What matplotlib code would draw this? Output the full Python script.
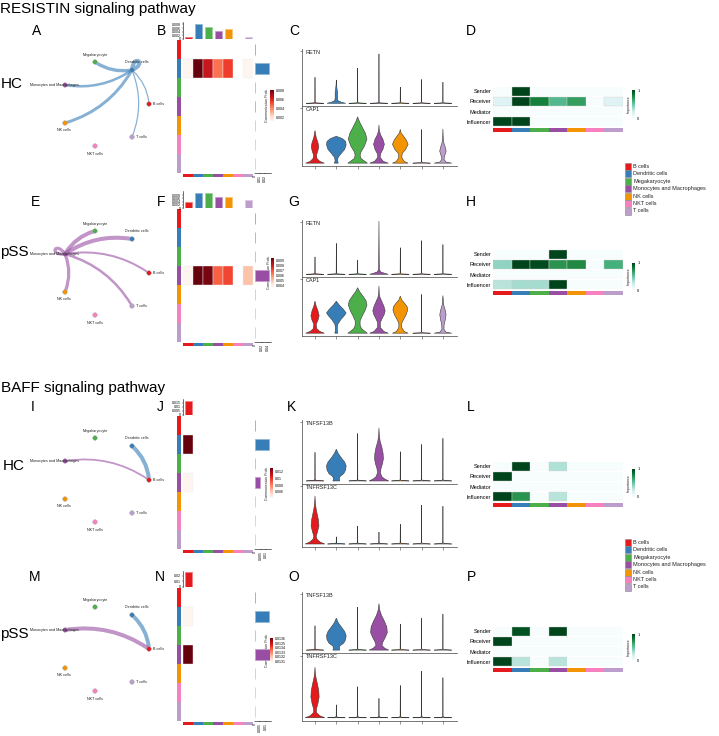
import numpy as np
import matplotlib
matplotlib.use('Agg')
import matplotlib.pyplot as plt
from matplotlib.patches import FancyArrowPatch, Rectangle, PathPatch
from matplotlib.path import Path
from matplotlib.colors import Normalize, to_rgb
from matplotlib.cm import ScalarMappable

plt.rcParams['font.family'] = ['Liberation Sans', 'DejaVu Sans']

# ------------------------------------------------------------------ data
cell_types = ['B cells', 'Dendritic cells', 'Megakaryocyte', 'Monocytes and Macrophages',
              'NK cells', 'NKT cells', 'T cells']
cell_colors = ['#E41A1C', '#377EB8', '#4DAF4A', '#984EA3', '#F29403', '#F781BF', '#BC9DCC']
roles = ['Sender', 'Receiver', 'Mediator', 'Influencer']

# communication probabilities (sender -> receivers, column order = cell_types)
resistin_hc_sender = 'Dendritic cells'
resistin_hc_prob = [0.0013, 0.0082, 0.0066, 0.0046, 0.0056, 0.0, 0.0013]
resistin_pss_sender = 'Monocytes and Macrophages'
resistin_pss_prob = [0.0038, 0.0095, 0.0093, 0.0068, 0.0072, 0.0, 0.0051]
# BAFF: senders (order = cell_types) -> B cells
baff_receiver = 'B cells'
baff_hc_prob = [0.0, 0.0130, 0.0, 0.0042, 0.0, 0.0, 0.0]
baff_pss_prob = [0.0, 0.01308, 0.0, 0.01362, 0.0, 0.0, 0.0]

# signaling role importance (rows = roles)
resistin_hc_roles = [[0, 1, 0, 0, 0, 0, 0],
                     [0.16, 1, 0.8, 0.56, 0.68, 0, 0.16],
                     [0, 0, 0, 0, 0, 0, 0],
                     [1, 1, 0, 0, 0, 0, 0]]
resistin_pss_roles = [[0, 0, 0, 1, 0, 0, 0],
                      [0.4, 1, 0.98, 0.72, 0.76, 0, 0.61],
                      [0, 0, 0, 0, 0, 0, 0],
                      [0.3, 0.35, 0.35, 1, 0, 0, 0]]
baff_hc_roles = [[0, 1, 0, 0.32, 0, 0, 0],
                 [1, 0, 0, 0, 0, 0, 0],
                 [0, 0, 0, 0, 0, 0, 0],
                 [1, 0.72, 0, 0.3, 0, 0, 0]]
baff_pss_roles = [[0, 0.96, 0, 1, 0, 0, 0],
                  [1, 0, 0, 0, 0, 0, 0],
                  [0, 0, 0, 0, 0, 0, 0],
                  [1, 0.3, 0, 0.3, 0, 0, 0]]

# violin plots: max expression per cell type (relative) and density profiles
# profile = (expression levels, relative density) for clusters with visible violins
resistin_genes = ['RETN', 'CAP1']
baff_genes = ['TNFSF13B', 'TNFRSF13C']

resistin_hc_max = {'RETN': [0.48, 0.43, 0.65, 0.91, 0.30, 0.44, 0.39],
                   'CAP1': [0.57, 0.47, 0.81, 0.67, 0.59, 0.59, 0.60]}
resistin_hc_prof = {
    'RETN': {1: ([0, 0.02, 0.05, 0.10, 0.20, 0.28, 0.35, 0.43], [0.95, 0.5, 0.15, 0.12, 0.12, 0.06, 0.02, 0])},
    'CAP1': {0: ([0, 0.03, 0.08, 0.14, 0.22, 0.29, 0.36, 0.45, 0.57], [0.95, 0.5, 0.2, 0.15, 0.3, 0.38, 0.3, 0.12, 0]),
             1: ([0, 0.04, 0.1, 0.16, 0.24, 0.32, 0.38, 0.43, 0.47], [0.2, 0.12, 0.18, 0.45, 0.85, 1.0, 0.95, 0.6, 0]),
             2: ([0, 0.03, 0.08, 0.14, 0.2, 0.3, 0.42, 0.52, 0.62, 0.72, 0.81], [1.0, 0.75, 0.35, 0.25, 0.35, 0.7, 0.95, 0.8, 0.5, 0.2, 0]),
             3: ([0, 0.03, 0.1, 0.16, 0.24, 0.33, 0.42, 0.5, 0.58, 0.67], [0.95, 0.45, 0.12, 0.15, 0.4, 0.55, 0.4, 0.15, 0.03, 0]),
             4: ([0, 0.03, 0.1, 0.17, 0.24, 0.33, 0.41, 0.48, 0.53, 0.59], [0.8, 0.4, 0.15, 0.2, 0.55, 0.8, 0.6, 0.3, 0.08, 0]),
             6: ([0, 0.02, 0.07, 0.14, 0.21, 0.27, 0.35, 0.45, 0.6], [0.9, 0.3, 0.1, 0.2, 0.33, 0.25, 0.1, 0.03, 0])}}

resistin_pss_max = {'RETN': [0.32, 0.57, 0.26, 0.98, 0.49, 0.62, 0.55],
                    'CAP1': [0.57, 0.57, 0.81, 0.84, 0.66, 0.69, 0.67]}
resistin_pss_prof = {
    'RETN': {3: ([0, 0.02, 0.04, 0.08, 0.2, 0.98], [0.95, 0.55, 0.2, 0.05, 0.03, 0])},
    'CAP1': {0: ([0, 0.03, 0.08, 0.16, 0.23, 0.31, 0.4, 0.48, 0.57], [0.95, 0.5, 0.18, 0.12, 0.3, 0.42, 0.3, 0.12, 0]),
             1: ([0, 0.05, 0.1, 0.16, 0.24, 0.31, 0.36, 0.43, 0.5, 0.57], [0.15, 0.1, 0.1, 0.15, 0.45, 0.8, 1.0, 0.7, 0.3, 0]),
             2: ([0, 0.03, 0.08, 0.14, 0.22, 0.3, 0.4, 0.5, 0.58, 0.67, 0.74, 0.81], [1.0, 0.75, 0.4, 0.25, 0.25, 0.45, 0.75, 0.95, 0.85, 0.5, 0.2, 0]),
             3: ([0, 0.03, 0.1, 0.19, 0.27, 0.34, 0.4, 0.48, 0.56, 0.64, 0.7, 0.84], [0.95, 0.5, 0.15, 0.13, 0.35, 0.55, 0.63, 0.5, 0.3, 0.1, 0.03, 0]),
             4: ([0, 0.03, 0.1, 0.18, 0.25, 0.33, 0.41, 0.47, 0.53, 0.59, 0.66], [0.8, 0.4, 0.15, 0.15, 0.35, 0.6, 0.75, 0.7, 0.45, 0.15, 0]),
             6: ([0, 0.02, 0.07, 0.15, 0.25, 0.33, 0.4, 0.5, 0.67], [0.9, 0.3, 0.1, 0.12, 0.25, 0.32, 0.25, 0.08, 0])}}

baff_hc_max = {'TNFSF13B': [0.47, 0.52, 0.78, 0.87, 0.48, 0.60, 0.70],
               'TNFRSF13C': [0.80, 0.12, 0.30, 0.20, 0.33, 0.65, 0.63]}
baff_hc_prof = {
    'TNFSF13B': {1: ([0, 0.03, 0.07, 0.12, 0.18, 0.25, 0.31, 0.38, 0.45, 0.52], [0.35, 0.3, 0.35, 0.75, 0.95, 1.0, 0.85, 0.5, 0.2, 0]),
                 3: ([0, 0.03, 0.07, 0.13, 0.2, 0.28, 0.36, 0.45, 0.55, 0.65, 0.75, 0.87], [1.0, 0.6, 0.3, 0.15, 0.2, 0.35, 0.45, 0.42, 0.3, 0.12, 0.03, 0])},
    'TNFRSF13C': {0: ([0, 0.03, 0.08, 0.13, 0.2, 0.3, 0.4, 0.5, 0.6, 0.7, 0.8], [1.0, 0.55, 0.2, 0.12, 0.25, 0.4, 0.35, 0.22, 0.1, 0.03, 0])}}

baff_pss_max = {'TNFSF13B': [0.42, 0.55, 0.74, 0.80, 0.45, 0.55, 0.62],
                'TNFRSF13C': [0.78, 0.20, 0.48, 0.30, 0.50, 0.72, 0.62]}
baff_pss_prof = {
    'TNFSF13B': {1: ([0, 0.03, 0.07, 0.12, 0.18, 0.25, 0.32, 0.4, 0.47, 0.55], [0.35, 0.3, 0.35, 0.75, 0.95, 1.0, 0.85, 0.5, 0.2, 0]),
                 3: ([0, 0.03, 0.08, 0.14, 0.22, 0.3, 0.4, 0.5, 0.6, 0.7, 0.8], [1.0, 0.6, 0.3, 0.4, 0.65, 0.85, 0.8, 0.55, 0.25, 0.06, 0])},
    'TNFRSF13C': {0: ([0, 0.03, 0.08, 0.14, 0.22, 0.32, 0.42, 0.52, 0.62, 0.7, 0.78], [1.0, 0.5, 0.15, 0.15, 0.3, 0.42, 0.38, 0.25, 0.1, 0.03, 0])}}

# ------------------------------------------------------------------ helpers
W, H = 719, 736
fig = plt.figure(figsize=(W / 100, H / 100), dpi=100)


def ax_px(x0, y0, x1, y1, **kw):
    return fig.add_axes([x0 / W, 1 - y1 / H, (x1 - x0) / W, (y1 - y0) / H], **kw)


def lighten(c, f=0.45):
    r, g, b = to_rgb(c)
    return (r + (1 - r) * f, g + (1 - g) * f, b + (1 - b) * f)


def sender_matrix(sender, probs):
    m = np.zeros((7, 7))
    m[cell_types.index(sender)] = probs
    return m


def receiver_matrix(receiver, probs):
    m = np.zeros((7, 7))
    m[:, cell_types.index(receiver)] = probs
    return m


ov = ax_px(0, 0, W, H)
ov.set_xlim(0, W)
ov.set_ylim(H, 0)
ov.axis('off')

# circle layout of the network (pixel layout, row-relative)
node_xy = [(149, 104), (132, 70), (95, 62), (65, 85), (65, 123), (95, 146), (132, 137)]
layout_center = (107, 104)
label_pos = [(4, 0, 'left'), (5, -8, 'center'), (0, -7, 'center'), (-10, 0, 'center'),
             (-1, 7, 'center'), (0, 8, 'center'), (4, 0, 'left')]


def draw_network(mat, yoff):
    wmax = mat.max()
    pos = [(x, y + yoff) for x, y in node_xy]
    for i in range(7):
        for j in range(7):
            w = mat[i, j]
            if w <= 0:
                continue
            lw = 0.5 + 2.4 * w / wmax
            col = cell_colors[i]
            if i == j:
                x, y = pos[i]
                ang = np.arctan2(y - (layout_center[1] + yoff), x - layout_center[0])
                R = 17
                p1 = (x + R * np.cos(ang + 0.55), y + R * np.sin(ang + 0.55))
                p2 = (x + R * np.cos(ang - 0.55), y + R * np.sin(ang - 0.55))
                path = Path([(x, y), p1, p2, (x, y)], [Path.MOVETO, Path.CURVE4, Path.CURVE4, Path.CURVE4])
                ov.add_patch(PathPatch(path, fc='none', ec=col, lw=lw, alpha=0.6, zorder=2))
            else:
                ov.add_patch(FancyArrowPatch(pos[i], pos[j], connectionstyle='arc3,rad=-0.2',
                                             arrowstyle='-', lw=lw, color=col, alpha=0.6,
                                             shrinkA=1.5, shrinkB=1.5, zorder=2))
    xs = [p[0] for p in pos]
    ys = [p[1] for p in pos]
    ov.scatter(xs, ys, s=11, c=cell_colors, edgecolors='#aaaaaa', linewidths=0.3, zorder=3)
    for k, (x, y) in enumerate(pos):
        dx, dy, ha = label_pos[k]
        ov.text(x + dx, y + dy, cell_types[k], fontsize=2.7, ha=ha, va='center', color='#222222', zorder=4)


reds = plt.cm.Reds


def comm_heatmap(mat, y0, top_h, top_lim, top_ticks, top_labels, right_lim, right_ticks, right_labels,
                 cb_box, cb_ticks, cb_labels):
    nz = mat[mat > 0]
    norm = Normalize(nz.min(), nz.max())
    axh = ax_px(183, y0, 253, y0 + 133)
    for i in range(7):
        for j in range(7):
            if mat[i, j] > 0:
                axh.barh(i, 1, left=j - 0.5, height=1, color=reds(norm(mat[i, j])),
                         edgecolor='#eeeeee', linewidth=0.3)
    axh.set_xlim(-0.5, 6.5)
    axh.set_ylim(6.5, -0.5)
    axh.axis('off')
    # left and bottom color strips
    axl = ax_px(177, y0, 181, y0 + 133)
    axl.barh(np.arange(7), [1] * 7, height=1, color=cell_colors)
    axl.set_ylim(6.5, -0.5)
    axl.set_xlim(0, 1)
    axl.axis('off')
    axb = ax_px(183, y0 + 134, 253, y0 + 137)
    axb.bar(np.arange(7), [1] * 7, width=1, color=cell_colors)
    axb.set_xlim(-0.5, 6.5)
    axb.set_ylim(0, 1)
    axb.axis('off')
    # top bars (incoming)
    colsum = mat.sum(axis=0)
    axt = ax_px(183, y0 - top_h - 1, 253, y0 - 1)
    axt.bar(np.arange(7), colsum, width=0.7, color=cell_colors,
            edgecolor=[lighten(c) for c in cell_colors], linewidth=0.6)
    axt.set_xlim(-0.5, 6.5)
    axt.set_ylim(0, top_lim)
    for s in ['top', 'right', 'bottom']:
        axt.spines[s].set_visible(False)
    axt.spines['left'].set_linewidth(0.4)
    axt.set_xticks([])
    axt.set_yticks(top_ticks)
    axt.set_yticklabels(top_labels)
    axt.tick_params(axis='y', labelsize=2.5, length=1.0, width=0.3, pad=0.5)
    axt.patch.set_alpha(0)
    # right bars (outgoing)
    rowsum = mat.sum(axis=1)
    axr = ax_px(255, y0, 271, y0 + 133)
    axr.barh(np.arange(7), rowsum, height=0.6, color=cell_colors,
             edgecolor=[lighten(c) for c in cell_colors], linewidth=0.6)
    axr.set_ylim(6.5, -0.5)
    axr.set_xlim(0, right_lim)
    for s in ['top', 'right', 'left']:
        axr.spines[s].set_visible(False)
    axr.spines['bottom'].set_linewidth(0.4)
    axr.set_yticks([])
    axr.set_xticks(right_ticks)
    axr.set_xticklabels(right_labels, rotation=90)
    axr.tick_params(axis='x', labelsize=2.5, length=1.0, width=0.3, pad=0.5)
    axr.patch.set_alpha(0)
    # color legend
    cax = ax_px(*cb_box)
    cb = fig.colorbar(ScalarMappable(norm=norm, cmap=reds), cax=cax, ticks=cb_ticks)
    cb.set_ticklabels(cb_labels)
    cb.outline.set_visible(False)
    cax.tick_params(labelsize=2.5, length=0.8, width=0.3, pad=0.6, color='white')
    ov.text(cb_box[0] - 2.5, (cb_box[1] + cb_box[3]) / 2, 'Communication Prob.', rotation=90,
            fontsize=2.5, ha='center', va='center', color='#222222')


bugn = plt.cm.BuGn


def role_heatmap(vals, y0, cb_box):
    ax = ax_px(493, y0, 623, y0 + 41)
    for r in range(4):
        v = np.asarray(vals[r], dtype=float)
        ax.barh([r] * 7, [1] * 7, left=np.arange(7), height=0.9, align='center',
                color=bugn(v), edgecolor=['#cfcfcf' if x > 0 else 'none' for x in v], linewidth=0.3)
    ax.set_xlim(0, 7)
    ax.set_ylim(3.5, -0.5)
    for s in ax.spines.values():
        s.set_visible(False)
    ax.set_xticks([])
    ax.set_yticks(range(4))
    ax.set_yticklabels(roles)
    ax.tick_params(axis='y', labelsize=4, length=0, pad=1.2)
    axb = ax_px(493, y0 + 41.5, 623, y0 + 45.5)
    axb.bar(np.arange(7), [1] * 7, width=1, color=cell_colors)
    axb.set_xlim(-0.5, 6.5)
    axb.set_ylim(0, 1)
    axb.axis('off')
    cax = ax_px(*cb_box)
    cb = fig.colorbar(ScalarMappable(norm=Normalize(0, 1), cmap=bugn), cax=cax, ticks=[0, 1])
    cb.set_ticklabels(['0', '1'])
    cb.outline.set_visible(False)
    cax.tick_params(labelsize=2.8, length=0.8, width=0.3, pad=0.8, color='white')
    ov.text(cb_box[0] - 3, (cb_box[1] + cb_box[3]) / 2, 'Importance', rotation=90,
            fontsize=2.5, ha='center', va='center', color='#222222')


def violin_panel(genes, vmax, prof, ytop, ysep, ybot):
    boxes = [(ytop, ysep), (ysep, ybot)]
    for g, gene in enumerate(genes):
        ax = ax_px(302, boxes[g][0], 457, boxes[g][1])
        for k in range(7):
            if k in prof[gene]:
                lv, dn = prof[gene][k]
            else:
                lv, dn = [0, 0.008, 0.02, vmax[gene][k]], [0.9, 0.15, 0.015, 0]
            lv = np.asarray(lv)
            dn = np.asarray(dn) * 0.46
            xs = np.concatenate([k + 1 + dn, (k + 1 - dn)[::-1]])
            ys = np.concatenate([lv, lv[::-1]])
            ax.fill(xs, ys, facecolor=cell_colors[k], edgecolor='#3a3a3a', linewidth=0.4)
        ax.set_xlim(0.39, 7.66)
        ax.set_ylim(-0.05, 1.0)
        for s in ['top', 'right']:
            ax.spines[s].set_visible(False)
        for s in ['left', 'bottom']:
            ax.spines[s].set_linewidth(0.5)
            ax.spines[s].set_color('#444444')
        ax.set_yticks([0.96])
        ax.set_yticklabels([''])
        ax.tick_params(axis='y', length=1.5, width=0.4, color='#444444')
        if g == 1:
            ax.set_xticks(range(1, 8))
            ax.set_xticklabels([''] * 7)
            ax.tick_params(axis='x', length=2, width=0.4, color='#444444')
        else:
            ax.set_xticks([])
        ax.text(0.56, 0.985, gene, fontsize=4, ha='left', va='top', color='#222222')
        ax.patch.set_alpha(0)


def cell_legend(y0):
    for k, name in enumerate(cell_types):
        yc = y0 + 7.5 * k
        ov.add_patch(Rectangle((625, yc - 3.5), 6, 7, fc=cell_colors[k], ec='#888888', lw=0.4))
        ov.text(633, yc, name, fontsize=4, va='center', ha='left', color='#222222')


# ------------------------------------------------------------------ build
res_hc = sender_matrix(resistin_hc_sender, resistin_hc_prob)
res_pss = sender_matrix(resistin_pss_sender, resistin_pss_prob)
baff_hc = receiver_matrix(baff_receiver, baff_hc_prob)
baff_pss = receiver_matrix(baff_receiver, baff_pss_prob)

# titles and panel letters
ov.text(0, 9, 'RESISTIN signaling pathway', fontsize=11, ha='left', va='center')
ov.text(1, 388, 'BAFF signaling pathway', fontsize=11, ha='left', va='center')
letters = [('A', 37, 31), ('B', 161, 31), ('C', 294, 31), ('D', 471, 31),
           ('E', 36, 202), ('F', 161, 202), ('G', 294, 202), ('H', 471, 202),
           ('I', 33, 407), ('J', 160, 407), ('K', 292, 407), ('L', 471, 407),
           ('M', 35, 577), ('N', 160, 577), ('O', 294, 577), ('P', 471, 577)]
for t, x, y in letters:
    ov.text(x, y, t, fontsize=10, ha='center', va='center')
for t, x, y in [('HC', 1, 84), ('pSS', 0, 252), ('HC', 3, 466), ('pSS', 0, 634)]:
    ov.text(x, y, t, fontsize=11, ha='left', va='center')

# networks
draw_network(res_hc, 0)
draw_network(res_pss, 169)
draw_network(baff_hc, 376)
draw_network(baff_pss, 545)

# communication heatmaps
comm_heatmap(res_hc, 40, 17, 0.0093, [0, 0.002, 0.004, 0.006, 0.008], ['0', '0.002', '0.004', '0.006', '0.008'],
             0.032, [0, 0.01, 0.02], ['0', '0.01', '0.02'],
             (270, 90, 274, 121), [0.002, 0.004, 0.006, 0.008], ['0.002', '0.004', '0.006', '0.008'])
comm_heatmap(res_pss, 209, 17, 0.0107, [0, 0.002, 0.004, 0.006, 0.008], ['0', '0.002', '0.004', '0.006', '0.008'],
             0.049, [0, 0.02, 0.04], ['0', '0.02', '0.04'],
             (271, 258, 274, 287), [0.004, 0.005, 0.006, 0.007, 0.008, 0.009],
             ['0.004', '0.005', '0.006', '0.007', '0.008', '0.009'])
comm_heatmap(baff_hc, 416, 16, 0.0195, [0, 0.005, 0.01, 0.015], ['0', '0.005', '0.01', '0.015'],
             0.0145, [0, 0.005, 0.01], ['0', '0.005', '0.01'],
             (270, 468, 273, 498), [0.004, 0.006, 0.008, 0.01, 0.012], ['0.004', '0.006', '0.008', '0.01', '0.012'])
comm_heatmap(baff_pss, 588, 16, 0.029, [0, 0.01, 0.02], ['0', '0.01', '0.02'],
             0.015, [0, 0.005, 0.01], ['0', '0.005', '0.01'],
             (270, 638, 273, 662), [0.0131, 0.0132, 0.0133, 0.0134, 0.0135, 0.0136],
             ['0.0131', '0.0132', '0.0133', '0.0134', '0.0135', '0.0136'])

# violins
violin_panel(resistin_genes, resistin_hc_max, resistin_hc_prof, 49, 106, 166)
violin_panel(resistin_genes, resistin_pss_max, resistin_pss_prof, 220, 277, 336)
violin_panel(baff_genes, baff_hc_max, baff_hc_prof, 420, 484, 547)
violin_panel(baff_genes, baff_pss_max, baff_pss_prof, 592, 653, 721)

# signaling roles
role_heatmap(resistin_hc_roles, 86, (632, 90, 635, 118))
role_heatmap(resistin_pss_roles, 249, (632, 263, 635, 290))
role_heatmap(baff_hc_roles, 461, (632, 469, 635, 497))
role_heatmap(baff_pss_roles, 626, (632, 634, 635, 661))

cell_legend(166)
cell_legend(542)

fig.savefig('out.png', dpi=100)
